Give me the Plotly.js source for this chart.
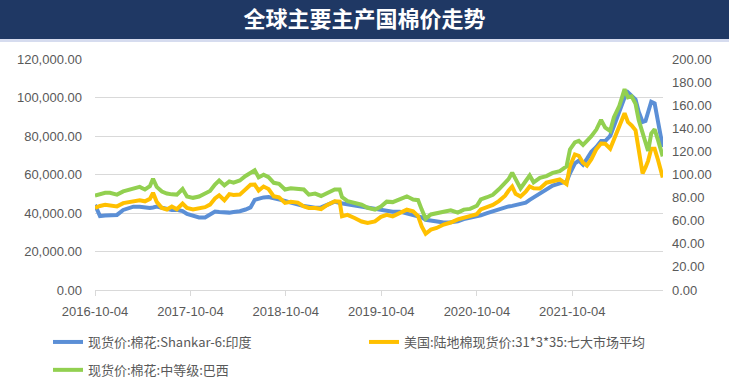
<!DOCTYPE html>
<html><head><meta charset="utf-8">
<script src="https://cdn.plot.ly/plotly-3.0.1.min.js"></script>
<style>html,body{margin:0;padding:0;background:#fff}#chart{width:729px;height:386px}</style>
</head><body><div id="chart"></div>
<script>
const chartTitle = '全球主要主产国棉价走势';
const seriesNames = ['现货价:棉花:Shankar-6:印度', '美国:陆地棉现货价:31*3*35:七大市场平均', '现货价:棉花:中等级:巴西'];
const dates = ['2016-10-04','2016-10-23','2016-11-12','2016-11-30','2016-12-27','2017-01-20','2017-02-09','2017-02-28','2017-03-24','2017-04-13',
'2017-05-02','2017-05-14','2017-05-28','2017-06-17','2017-07-06','2017-07-25','2017-08-13','2017-09-04','2017-09-21','2017-10-14',
'2017-11-06','2017-11-29','2017-12-18','2018-01-06','2018-01-22','2018-02-11','2018-03-02','2018-03-18','2018-04-11','2018-05-03',
'2018-05-22','2018-06-07','2018-06-22','2018-07-11','2018-07-30','2018-08-19','2018-09-08','2018-10-01','2018-10-23','2018-11-19',
'2018-12-12','2018-12-31','2019-01-24','2019-02-16','2019-03-12','2019-04-09','2019-04-28','2019-05-07','2019-05-28','2019-06-24',
'2019-07-21','2019-08-13','2019-09-10','2019-10-03','2019-10-25','2019-11-17','2019-12-14','2020-01-10','2020-02-03','2020-02-22',
'2020-03-07','2020-03-22','2020-04-11','2020-05-03','2020-05-30','2020-06-26','2020-07-23','2020-08-15','2020-09-08','2020-10-04',
'2020-10-19','2020-11-12','2020-12-04','2020-12-27','2021-01-20','2021-02-02','2021-02-16','2021-03-01','2021-03-20','2021-04-09',
'2021-04-24','2021-05-09','2021-06-02','2021-06-27','2021-07-21','2021-08-17','2021-09-12','2021-09-25','2021-10-14','2021-10-29',
'2021-11-14','2021-11-29','2021-12-16','2022-01-04','2022-01-22','2022-02-07','2022-02-26','2022-03-12','2022-04-02','2022-04-22',
'2022-05-05','2022-05-19','2022-06-03','2022-06-15','2022-06-30','2022-07-11','2022-07-21','2022-08-02','2022-08-15','2022-08-28','2022-09-15'];
const shankarIndia = [44200,38400,38700,39000,39000,41600,42600,43300,43300,42800,
42600,42900,43300,42700,42100,41600,41700,41000,39500,38400,
37700,37700,39000,40800,40500,40100,40200,40500,40900,41800,
42900,46800,47500,48100,48300,47800,47200,46300,45400,44200,
43600,43200,42700,42900,44200,45900,45200,45000,44500,43900,
43200,42500,41900,41400,40900,40700,40700,39800,39000,38300,
37800,36500,36000,35500,35100,35200,35700,36800,37500,38100,
38800,39900,40900,42000,43000,43400,43700,44100,44700,45400,
46800,48000,49900,52500,54200,55400,56300,60600,65800,67200,
65100,68100,71800,74300,77400,77400,80100,85000,93500,100000,
102700,101100,98900,92600,87300,87800,92200,97800,97000,87500,74300];
const usUpland = [71.0,72.8,73.7,73.0,72.4,75.2,76.1,76.8,77.7,76.8,
78.9,84.1,76.3,71.0,69.7,72.3,69.9,74.8,71.0,69.7,
70.4,71.7,73.9,79.3,82.0,77.7,83.0,82.3,82.6,87.0,
91.2,91.3,86.1,89.6,87.4,81.1,80.3,75.4,76.3,75.7,
72.3,71.0,71.0,70.1,73.7,76.8,76.5,63.9,65.1,62.3,
59.3,58.1,59.4,63.3,65.1,63.7,66.7,69.5,68.2,64.0,
55.0,48.7,52.3,53.7,56.7,58.4,61.1,62.5,63.7,65.7,
69.8,71.6,73.7,77.0,81.7,85.9,89.5,83.3,80.9,85.2,
89.6,88.0,87.9,92.9,94.6,95.7,91.6,107.2,117.4,116.2,
110.2,107.6,113.2,122.0,126.8,126.6,122.3,130.7,142.0,153.0,
145.3,142.5,138.2,119.6,100.9,106.1,111.8,122.2,122.2,112.6,97.4];
const brazilMid = [81.7,83.1,84.1,84.1,82.6,85.4,86.5,87.5,89.3,87.0,
89.8,96.3,89.3,85.2,83.5,82.8,82.6,87.4,81.0,79.8,
80.9,83.5,85.7,91.3,94.8,90.6,94.0,93.0,94.8,98.7,
101.9,103.7,97.5,99.8,97.7,92.8,91.9,87.0,88.0,87.0,
87.0,82.6,83.5,81.4,83.9,87.0,87.0,80.4,76.9,75.4,
73.8,71.2,69.6,72.2,76.5,76.1,78.3,81.1,78.3,77.8,
69.6,61.7,65.4,66.8,67.8,69.0,67.0,69.6,70.2,73.0,
78.5,80.3,82.4,87.2,92.8,96.0,101.6,95.3,88.0,94.4,
99.1,93.2,97.1,98.6,101.4,102.9,107.1,121.7,127.8,129.2,
125.7,129.2,133.1,138.9,147.3,140.6,137.7,149.4,159.4,173.9,
166.8,167.6,161.1,147.2,135.0,127.6,120.4,135.4,139.1,129.7,115.7];

const grey = '#595959';
const gridC = '#d9d9d9';
const tickFont = {family: 'Liberation Sans, Arial, sans-serif', size: 13, color: grey};
const legFont = {family: 'Noto Sans CJK SC, sans-serif', size: 13, color: grey};

const traces = [
  {x: dates, y: shankarIndia, name: seriesNames[0], type: 'scatter', mode: 'lines', yaxis: 'y',
   legend: 'legend', legendgroup: 'a', line: {color: '#5b8fd6', width: 4}},
  {x: dates, y: usUpland, name: seriesNames[1], type: 'scatter', mode: 'lines', yaxis: 'y2',
   legend: 'legend2', legendgroup: 'b', line: {color: '#ffc000', width: 4}},
  {x: dates, y: brazilMid, name: seriesNames[2], type: 'scatter', mode: 'lines', yaxis: 'y2',
   legend: 'legend', legendgroup: 'c', line: {color: '#92d050', width: 4}}
];

const L = 95, R = 66, T = 59, B = 96;
const pw = 729 - L - R, ph = 386 - T - B;
const px = v => (v - L) / pw;
const py = v => 1 - (v - T) / ph;

const layout = {
  width: 729, height: 386,
  margin: {l: L, r: R, t: T, b: B, pad: 0, autoexpand: false},
  paper_bgcolor: '#ffffff', plot_bgcolor: '#ffffff',
  showlegend: true,
  title: {text: chartTitle, x: 0.5, xref: 'container', xanchor: 'center', y: 1 - 19 / 386, yref: 'container', yanchor: 'middle',
          font: {family: 'Noto Sans CJK SC, sans-serif', size: 22, color: '#ffffff', weight: 700}},
  shapes: [
    {type: 'rect', xref: 'paper', yref: 'paper', x0: px(-5), x1: px(740), y0: py(39), y1: py(-5),
     fillcolor: '#1f3864', line: {width: 0}, layer: 'below'},
    {type: 'rect', xref: 'paper', yref: 'paper', x0: px(-5), x1: px(740), y0: py(42), y1: py(39),
     fillcolor: '#d6dcef', line: {width: 0}, layer: 'below'}
  ],
  xaxis: {type: 'date', range: ['2016-10-04', '2022-09-16'], tick0: '2016-10-04', dtick: 'M12', tickformat: '%Y-%m-%d',
          ticks: 'outside', ticklen: 5, tickcolor: gridC, tickwidth: 1, showline: true, linecolor: gridC, linewidth: 1,
          showgrid: false, zeroline: false, tickfont: tickFont, ticklabelstandoff: 4, automargin: false},
  yaxis: {range: [0, 120000], dtick: 20000, tick0: 0, tickformat: ',.2f', showgrid: true, gridcolor: gridC, gridwidth: 1,
          zeroline: false, showline: false, ticks: '', tickfont: tickFont, ticklabelstandoff: 12, automargin: false},
  yaxis2: {range: [0, 200], dtick: 20, tick0: 0, tickformat: '.2f', overlaying: 'y', side: 'right', showgrid: false,
           zeroline: false, showline: false, ticks: '', tickfont: tickFont, ticklabelstandoff: 8, automargin: false},
  legend: {orientation: 'v', xref: 'container', yref: 'container', x: 48 / 729, y: 1 - 327 / 386, xanchor: 'left', yanchor: 'top',
           itemwidth: 30, tracegroupgap: 8, traceorder: 'grouped', font: legFont, bgcolor: 'rgba(0,0,0,0)'},
  legend2: {orientation: 'v', xref: 'container', yref: 'container', x: 364 / 729, y: 1 - 327 / 386, xanchor: 'left', yanchor: 'top',
           itemwidth: 30, font: legFont, bgcolor: 'rgba(0,0,0,0)'}
};

Plotly.newPlot('chart', traces, layout, {displayModeBar: false, staticPlot: true});
</script>
</body></html>
